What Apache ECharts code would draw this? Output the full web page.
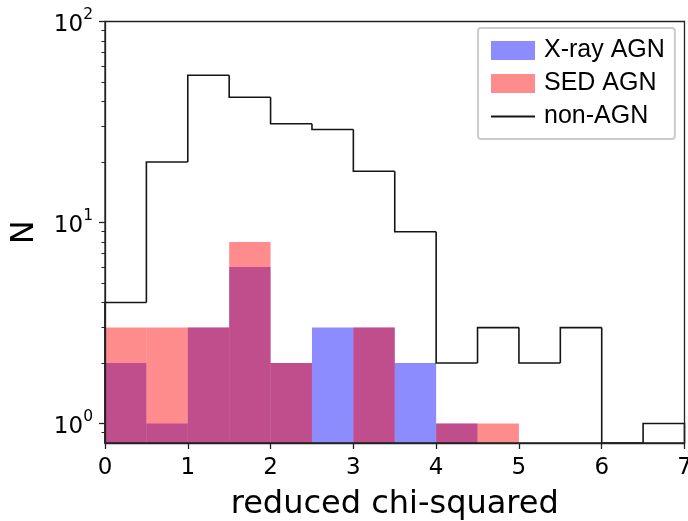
<!DOCTYPE html>
<html>
<head>
<meta charset="utf-8">
<script src="https://cdn.jsdelivr.net/npm/echarts@6/dist/echarts.min.js"></script>
<style>
  html, body { margin: 0; padding: 0; background: #fff; }
  #chart { width: 688px; height: 521px; }
</style>
</head>
<body>
<div id="chart"></div>
<script>
// bin edges 0..7, width 0.5
const binStart = [0, 0.5, 1, 1.5, 2, 2.5, 3, 3.5, 4, 4.5, 5, 5.5, 6, 6.5]
const binWidth = 0.5
const xrayAgn = [2, 1, 3, 6, 2, 3, 3, 2, 1, 0, 0, 0, 0, 0]
const sedAgn = [3, 3, 3, 8, 2, 0, 3, 0, 1, 1, 0, 0, 0, 0]
const nonAgn = [4, 20, 54, 42, 31, 29, 18, 9, 2, 3, 2, 3, 0, 1]
const yMajorTicks = [1, 10, 100]
const yMinorTicks = [0.9, 2, 3, 4, 5, 6, 7, 8, 9, 20, 30, 40, 50, 60, 70, 80, 90]

const FONT = 'DejaVu Sans'
const chart = echarts.init(document.getElementById('chart'))

const binData = counts => binStart.map((s, i) => [s, s + binWidth, counts[i]])

const renderBar = (params, api) => {
  const v = api.value(2)
  if (!(v > 0)) return null
  const cs = params.coordSys
  const bottom = cs.y + cs.height
  const p0 = api.coord([api.value(0), v])
  const p1 = api.coord([api.value(1), v])
  return {
    type: 'rect',
    shape: { x: p0[0], y: p0[1], width: p1[0] - p0[0], height: bottom - p0[1] },
    style: { fill: api.visual('color') }
  }
}

const renderStep = (params, api) => {
  const cs = params.coordSys
  const bottom = cs.y + cs.height
  const i = params.dataIndex
  const yOf = (x, v) => (v > 0 ? api.coord([x, v])[1] : bottom)
  const left = api.value(0)
  const right = api.value(1)
  const xl = api.coord([left, 1])[0]
  const xr = api.coord([right, 1])[0]
  const yPrev = i === 0 ? bottom : yOf(left, nonAgn[i - 1])
  const yCur = yOf(left, api.value(2))
  const points = [[xl, yPrev], [xl, yCur], [xr, yCur]]
  if (i === binStart.length - 1) points.push([xr, bottom])
  return {
    type: 'polyline',
    shape: { points },
    style: { stroke: '#151515', lineWidth: 1.6, fill: null }
  }
}

chart.setOption({
  animation: false,
  grid: {
    left: 105, right: 3.5, top: 21.5, bottom: 78,
    outerBoundsMode: 'none', containLabel: false,
    show: true, borderColor: '#222', borderWidth: 1.3, backgroundColor: 'transparent', z: 5
  },
  legend: {
    orient: 'vertical',
    left: 478, top: 28,
    padding: [10, 10, 10, 13],
    itemGap: 8, itemWidth: 44, itemHeight: 19,
    backgroundColor: '#fff', borderColor: '#ccc', borderWidth: 2, borderRadius: 3,
    textStyle: { fontFamily: 'Liberation Sans', fontSize: 25, color: '#000', padding: [0, 0, 0, 4] },
    selectedMode: false,
    data: [
      { name: 'X-ray AGN', icon: 'rect' },
      { name: 'SED AGN', icon: 'rect' },
      { name: 'non-AGN', icon: 'path://M0,8.6h44v1.8h-44z M0,0h0.01v0.01h-0.01z M43.99,18.99h0.01v0.01h-0.01z' }
    ]
  },
  xAxis: {
    type: 'value', min: 0, max: 7, interval: 1, z: 5,
    name: 'reduced chi-squared', nameLocation: 'middle', nameGap: 46, nameMoveOverlap: false,
    nameTextStyle: { fontFamily: FONT, fontSize: 32, color: '#000' },
    axisLine: { show: true, lineStyle: { color: '#222', width: 1.3 } },
    axisTick: { show: true, length: 6, lineStyle: { color: '#222', width: 1.3 } },
    axisLabel: { fontFamily: FONT, fontSize: 23, color: '#000', margin: 14 },
    splitLine: { show: false }
  },
  yAxis: [
    {
      type: 'log', min: 0.8, max: 100, logBase: 10, z: 5,
      name: 'N', nameLocation: 'middle', nameGap: 64, nameRotate: 90, nameMoveOverlap: false,
      nameTextStyle: { fontFamily: FONT, fontSize: 32, color: '#000' },
      axisLine: { show: true, lineStyle: { color: '#222', width: 1.3 } },
      axisTick: { show: true, length: 6, customValues: yMajorTicks, lineStyle: { color: '#222', width: 1.3 } },
      axisLabel: {
        customValues: yMajorTicks,
        margin: 12,
        formatter: v => '{b|10}{s|' + Math.round(Math.log10(v)) + '}',
        rich: {
          b: { fontFamily: FONT, fontSize: 23, color: '#000', lineHeight: 30, verticalAlign: 'bottom' },
          s: { fontFamily: FONT, fontSize: 15.5, color: '#000', lineHeight: 16, verticalAlign: 'top' }
        }
      },
      splitLine: { show: false }
    },
    {
      type: 'log', min: 0.8, max: 100, logBase: 10, position: 'left', z: 5,
      axisLine: { show: false },
      axisTick: { show: true, length: 3.5, customValues: yMinorTicks, lineStyle: { color: '#222', width: 1 } },
      axisLabel: { show: false },
      splitLine: { show: false }
    }
  ],
  series: [
    {
      name: 'X-ray AGN', type: 'custom', renderItem: renderBar,
      itemStyle: { color: 'rgba(0,0,255,0.45)' },
      encode: { x: [0, 1], y: 2 },
      data: binData(xrayAgn)
    },
    {
      name: 'SED AGN', type: 'custom', renderItem: renderBar,
      itemStyle: { color: 'rgba(255,0,0,0.45)' },
      encode: { x: [0, 1], y: 2 },
      data: binData(sedAgn)
    },
    {
      name: 'non-AGN', type: 'custom', renderItem: renderStep,
      itemStyle: { color: '#151515' },
      encode: { x: [0, 1], y: 2 },
      data: binData(nonAgn)
    }
  ]
})
</script>
</body>
</html>
